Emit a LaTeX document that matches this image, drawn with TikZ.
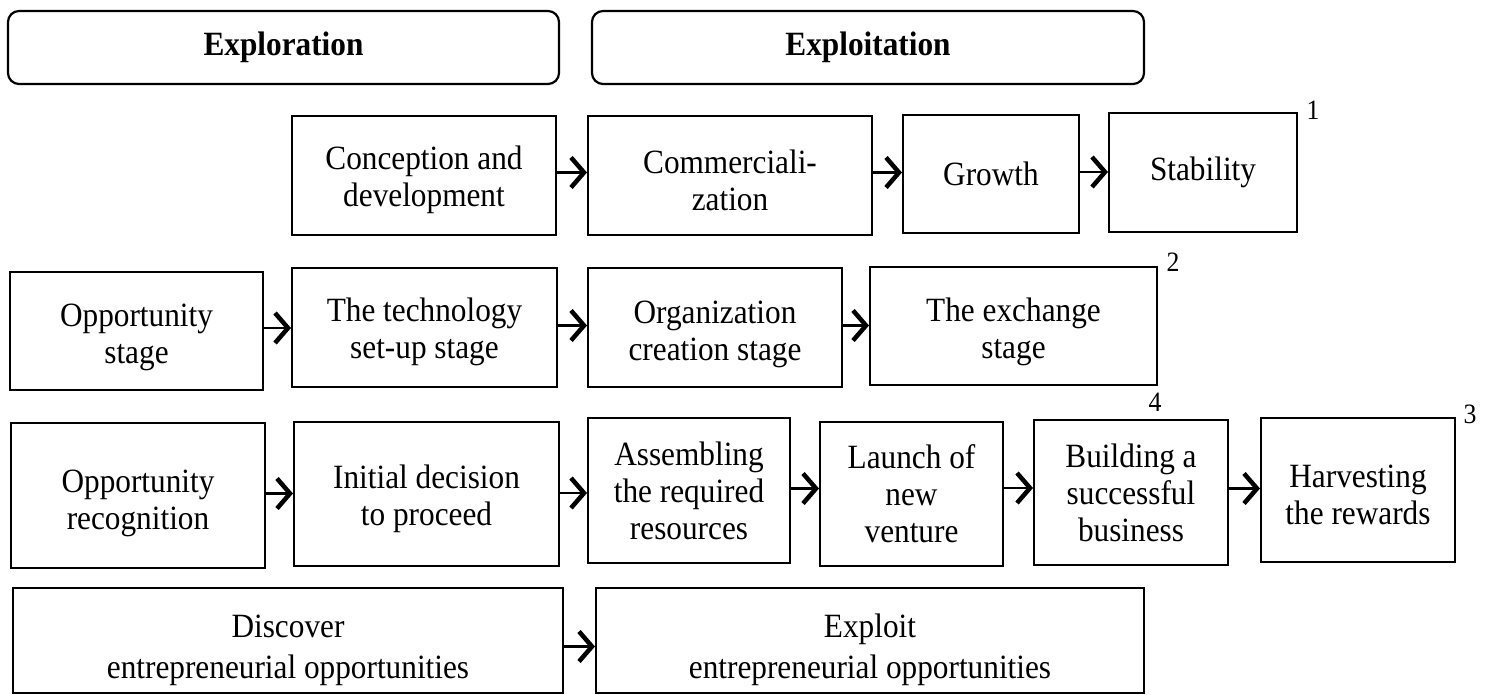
\documentclass[tikz,border=0pt]{standalone}
\usepackage{fontspec}
\setmainfont[FakeStretch=0.92]{Liberation Serif}
\usetikzlibrary{arrows.meta}
\newcommand{\bodyfnt}{\fontsize{34}{37}\selectfont}
\newcommand{\numfnt}{\fontsize{28}{30}\selectfont}
\newcommand{\fl}{\rule{0pt}{33pt}}
\tikzset{
  stagebox/.style={draw, line width=1.8pt, inner sep=0pt, outer sep=0pt, align=center, font=\bodyfnt},
  phasebox/.style={draw, line width=2.2pt, rounded corners=11pt, inner sep=0pt, outer sep=0pt, align=center, font=\bodyfnt\bfseries},
  numlabel/.style={inner sep=0pt, font=\numfnt},
  arr/.style={-{Straight Barb[length=13pt,width=30pt,line width=4.5pt]}, line width=2.6pt, shorten >=1pt},
}
\begin{document}
\begin{tikzpicture}[x=1pt,y=-1pt]
\useasboundingbox (0,0) rectangle (1486,695);
% phases
\node[phasebox, minimum width=551, minimum height=73] (explo) at (283.5,47.5) {Exploration};
\node[phasebox, minimum width=552, minimum height=73] (exploi) at (868,47.5) {Exploitation};
% row 1
\node[stagebox, minimum width=264, minimum height=119] (conc) at (424,175.5) {\fl Conception and\\development};
\node[stagebox, minimum width=284, minimum height=119] (comm) at (730,175.5) {\fl Commerciali-\\zation};
\node[stagebox, minimum width=176, minimum height=118] (grow) at (991,174) {Growth};
\node[stagebox, minimum width=188, minimum height=119] (stab) at (1203,172.5) {Stability};
\node[numlabel] (n1) at (1313,110) {1};
% row 2
\node[stagebox, minimum width=253, minimum height=118] (opps) at (136.5,331) {\rule{0pt}{36pt}Opportunity\\stage};
\node[stagebox, minimum width=265, minimum height=119] (tech) at (424.5,327.5) {\fl The technology\\set-up stage};
\node[stagebox, minimum width=254, minimum height=119] (org) at (715,327.5) {\rule{0pt}{36pt}Organization\\creation stage};
\node[stagebox, minimum width=287, minimum height=118] (exch) at (1013.5,326) {\rule{0pt}{36pt}The exchange\\stage};
\node[numlabel] (n2) at (1173,262) {2};
\node[numlabel] (n4) at (1155,402) {4};
% row 3
\node[stagebox, minimum width=254, minimum height=145] (oprec) at (138,495.5) {\rule{0pt}{38pt}Opportunity\\recognition};
\node[stagebox, minimum width=265, minimum height=144] (init) at (426.5,494) {\fl Initial decision\\to proceed};
\node[stagebox, minimum width=202, minimum height=145] (assem) at (689,490.5) {Assembling\\the required\\resources};
\node[stagebox, minimum width=183, minimum height=144] (launch) at (911.5,494) {Launch of\\new\\venture};
\node[stagebox, minimum width=194, minimum height=145] (build) at (1131,492.5) {Building a\\successful\\business};
\node[stagebox, minimum width=194, minimum height=144] (harv) at (1358,490) {\fl Harvesting\\the rewards};
\node[numlabel] (n3) at (1470,414) {3};
% row 4
\node[stagebox, minimum width=550, minimum height=105, font=\fontsize{34}{41}\selectfont] (disc) at (288,640.5) {\rule{0pt}{42pt}Discover\\entrepreneurial opportunities};
\node[stagebox, minimum width=548, minimum height=105, font=\fontsize{34}{41}\selectfont] (expl) at (870,640.5) {\rule{0pt}{42pt}Exploit\\entrepreneurial opportunities};
% arrows
\draw[arr] ([yshift=3pt]conc.east) -- ([yshift=3pt]conc.east -| comm.west);
\draw[arr] ([yshift=3pt]comm.east) -- ([yshift=3pt]comm.east -| grow.west);
\draw[arr] ([yshift=2pt]grow.east) -- ([yshift=2pt]grow.east -| stab.west);
\draw[arr] ([yshift=3pt]opps.east) -- ([yshift=3pt]opps.east -| tech.west);
\draw[arr] ([yshift=2pt]tech.east) -- ([yshift=2pt]tech.east -| org.west);
\draw[arr] ([yshift=2pt]org.east) -- ([yshift=2pt]org.east -| exch.west);
\draw[arr] ([yshift=2pt]oprec.east) -- ([yshift=2pt]oprec.east -| init.west);
\draw[arr] ([yshift=1pt]init.east) -- ([yshift=1pt]init.east -| assem.west);
\draw[arr] ([yshift=2pt]assem.east) -- ([yshift=2pt]assem.east -| launch.west);
\draw[arr] ([yshift=6pt]launch.east) -- ([yshift=6pt]launch.east -| build.west);
\draw[arr] ([yshift=4pt]build.east) -- ([yshift=4pt]build.east -| harv.west);
\draw[arr] ([yshift=-6pt]disc.east) -- ([yshift=-6pt]disc.east -| expl.west);
\end{tikzpicture}
\end{document}
